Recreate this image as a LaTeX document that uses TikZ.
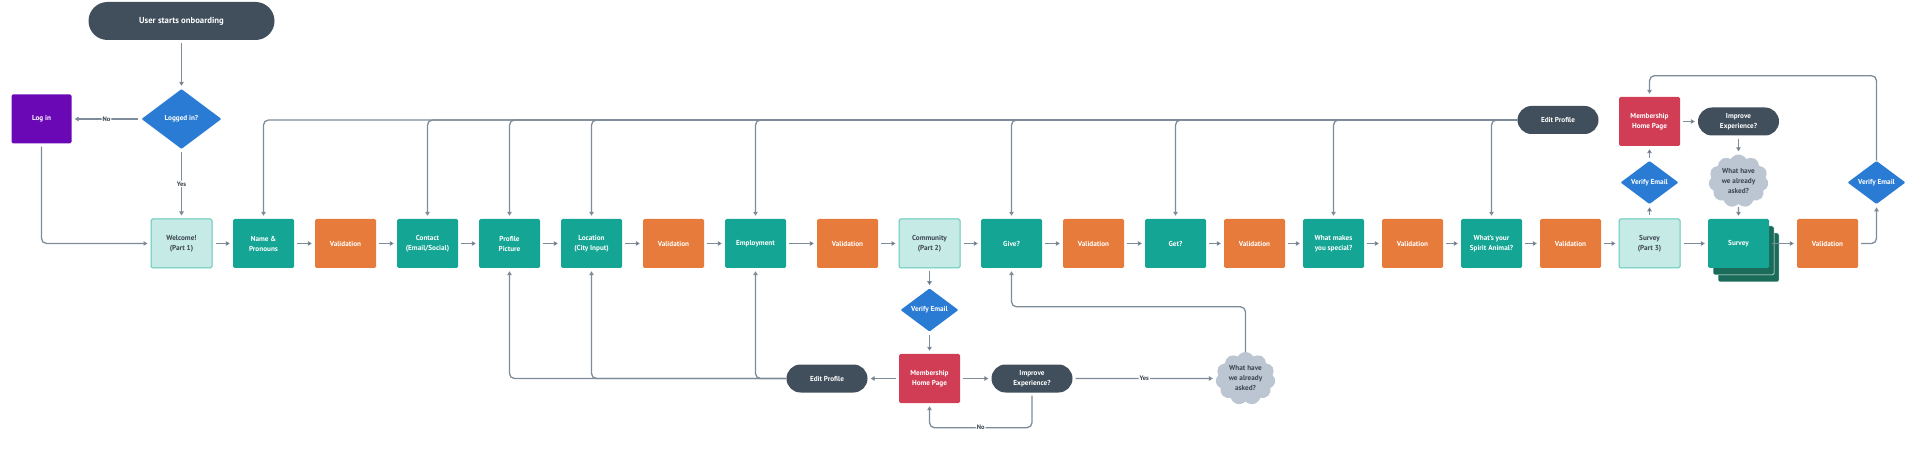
\documentclass[tikz,border=0pt]{standalone}
\usepackage{fontspec}
\setmainfont{PT Sans}
\usetikzlibrary{positioning,shapes.geometric,shapes.symbols,shadows,arrows.meta}

\definecolor{slate}{HTML}{414F5C}
\definecolor{flowline}{HTML}{7E8B98}
\definecolor{tealbox}{HTML}{15A594}
\definecolor{tealdark}{HTML}{1B6B5B}
\definecolor{tealpale}{HTML}{C6EAE6}
\definecolor{tealedge}{HTML}{5FC8B8}
\definecolor{valorange}{HTML}{E67B3C}
\definecolor{memberred}{HTML}{D03D55}
\definecolor{askblue}{HTML}{2A7BD4}
\definecolor{loginpurple}{HTML}{6A08B6}
\definecolor{cloudgray}{HTML}{BBC6D2}
\definecolor{textdark}{HTML}{3B4651}

\begin{document}
\begin{tikzpicture}[x=1pt, y=-1pt, node distance=82pt,
    font=\fontsize{7.2}{10}\selectfont\bfseries,
    box/.style={rectangle, rounded corners=1.5pt, minimum width=61pt, minimum height=49pt,
                align=center, text=white, inner sep=1pt},
    screen node/.style={box, fill=tealbox},
    check node/.style={box, fill=valorange},
    part node/.style={box, fill=tealpale, draw=tealedge, line width=1pt, text=textdark},
    home node/.style={box, fill=memberred},
    pill node/.style={rectangle, rounded corners=14pt, fill=slate, text=white,
                      minimum width=81pt, minimum height=28pt, align=center},
    ask node/.style={diamond, fill=askblue, text=white, minimum width=58pt,
                     minimum height=43pt, inner sep=0pt, rounded corners=1pt},
    cloud node/.style={cloud, cloud puffs=11, cloud puff arc=120, fill=cloudgray,
                       text=textdark, minimum width=60pt, minimum height=50pt,
                       align=center, inner sep=0pt},
    flow/.style={draw=flowline, line width=1.3pt, -{Triangle[length=4pt,width=4.5pt]},
                 rounded corners=5pt},
    gap/.style={shorten <=3pt, shorten >=3pt},
    tag/.style={fill=white, text=textdark, inner sep=1pt, font=\fontsize{6.5}{7}\selectfont\bfseries}]

  \useasboundingbox (0,0) rectangle (1920,470);

  % main row
  \node[part node] (welcome) at (181.5,243.5) {Welcome!\\(Part 1)};
  \node[screen node] (name) [right of=welcome] {Name \&\\Pronouns};
  \node[check node] (val1) [right of=name] {Validation};
  \node[screen node] (contact) [right of=val1] {Contact\\(Email/Social)};
  \node[screen node] (profile) [right of=contact] {Profile\\Picture};
  \node[screen node] (location) [right of=profile] {Location\\(City Input)};
  \node[check node] (val2) [right of=location] {Validation};
  \node[screen node] (employment) [right of=val2] {Employment};
  \node[check node] (val3) [right of=employment, xshift=10pt] {Validation};
  \node[part node] (community) [right of=val3] {Community\\(Part 2)};
  \node[screen node] (give) [right of=community] {Give?};
  \node[check node] (val4) [right of=give] {Validation};
  \node[screen node] (get) [right of=val4] {Get?};
  \node[check node] (val5) [right of=get, xshift=-3pt] {Validation};
  \node[screen node] (special) [right of=val5, xshift=-3pt] {What makes\\you special?};
  \node[check node] (val6) [right of=special, xshift=-3pt] {Validation};
  \node[screen node] (spirit) [right of=val6, xshift=-3pt] {What's your\\Spirit Animal?};
  \node[check node] (val7) [right of=spirit, xshift=-3pt] {Validation};
  \node[part node] (survey3) [right of=val7, xshift=-3pt] {Survey\\(Part 3)};
  \node[screen node,
        copy shadow={shadow xshift=10pt, shadow yshift=-14pt, fill=tealdark, draw=white, line width=.5pt},
        copy shadow={shadow xshift=5pt, shadow yshift=-7pt, fill=tealdark, draw=white, line width=.5pt}]
        (survey) [right of=survey3, xshift=7pt] {Survey};
  \node[check node] (val8) [right of=survey, xshift=7pt] {Validation};

  % start
  \node[ask node, minimum width=80pt, minimum height=60pt] (loggedin) [above of=welcome, node distance=124.5pt] {Logged in?};
  \node[pill node, minimum width=186pt, minimum height=38pt, rounded corners=19pt,
        font=\fontsize{8.7}{10}\selectfont\bfseries] (start) [above of=loggedin, node distance=98pt] {User starts onboarding};
  \node[box, fill=loginpurple, minimum width=60pt] (login) [left of=loggedin, node distance=140pt] {Log in};

  % part 2 branch
  \node[ask node] (verifyB) [below of=community, node distance=66.5pt] {Verify Email};
  \node[home node] (memberB) [below of=verifyB, node distance=68.5pt] {Membership\\Home Page};
  \node[pill node] (editB) [left of=memberB, node distance=102.5pt] {Edit Profile};
  \node[pill node] (improveB) [right of=memberB, node distance=102.5pt] {Improve\\Experience?};
  \node[cloud node] (cloudB) [right of=improveB, node distance=213.5pt] {What have\\we already\\asked?};

  % part 3 branch
  \node[pill node] (editA) at (1558,120) {Edit Profile};
  \node[ask node] (verifyC) [above of=survey3, node distance=61pt] {Verify Email};
  \node[home node] (memberC) [above of=verifyC, node distance=61pt] {Membership\\Home Page};
  \node[pill node] (improveC) [right of=memberC, node distance=89pt] {Improve\\Experience?};
  \node[cloud node] (cloudC) [below of=improveC, node distance=59.5pt] {What have\\we already\\asked?};
  \node[ask node] (verifyD) [above of=val8, node distance=61pt, xshift=49pt] {Verify Email};

  \path[flow, gap]
    (welcome) edge (name)
    (name) edge (val1)
    (val1) edge (contact)
    (contact) edge (profile)
    (profile) edge (location)
    (location) edge (val2)
    (val2) edge (employment)
    (employment) edge (val3)
    (val3) edge (community)
    (community) edge (give)
    (give) edge (val4)
    (val4) edge (get)
    (get) edge (val5)
    (val5) edge (special)
    (special) edge (val6)
    (val6) edge (spirit)
    (spirit) edge (val7)
    (val7) edge (survey3)
    (survey3) edge (survey)
    (survey) edge (val8)
    (start) edge (loggedin)
    (community) edge (verifyB)
    (verifyB) edge (memberB)
    (memberB) edge (editB)
    (memberB) edge (improveB)
    (survey3) edge (verifyC)
    (verifyC) edge (memberC)
    (memberC) edge (improveC)
    (improveC) edge (cloudC)
    (cloudC) edge (survey);

  \draw[flow, gap] (loggedin) -- node[tag] {No} (login);
  \draw[flow, gap] (loggedin) -- node[tag] {Yes} (welcome);
  \draw[flow, gap] (login.south) |- (welcome.west);
  \draw[flow, gap] (improveB) -- node[tag] {Yes} (cloudB);
  \draw[flow, gap] (improveB.south) -- ++(0,35) -| node[tag, pos=.25] {No} (memberB.south);
  \draw[flow, shorten >=3pt] (cloudB.north) -- ++(0,-45) -| (give.south);
  \draw[flow, gap] (val8.east) -| (verifyD.south);
  \draw[flow, shorten >=3pt] (verifyD.north) -- ++(0,-85) -| (memberC.north);

  % edit profile back into the steps
  \foreach \t in {name, contact, profile, location, employment, give, get, special, spirit}
    \draw[flow, shorten >=3pt] (editA.west) -| (\t.north);
  \foreach \t in {profile, location, employment}
    \draw[flow, shorten >=3pt] (editB.west) -| (\t.south);

\end{tikzpicture}
\end{document}
